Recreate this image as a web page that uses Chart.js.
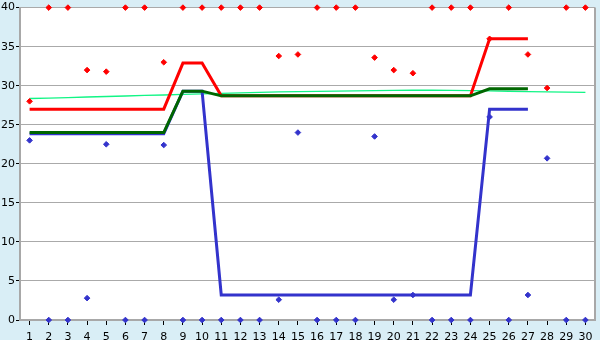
<!DOCTYPE html>
<html>
<head>
<meta charset="utf-8">
<script src="https://cdn.jsdelivr.net/npm/chart.js@4.4.1/dist/chart.umd.min.js"></script>
<style>
  html, body { margin: 0; padding: 0; background: #d9eef6; }
  #wrap { width: 600px; height: 340px; }
</style>
</head>
<body>
<div id="wrap"><canvas id="myChart" width="600" height="340"></canvas></div>
<script>
var labels = ["1","2","3","4","5","6","7","8","9","10","11","12","13","14","15",
              "16","17","18","19","20","21","22","23","24","25","26","27","28","29","30"];
var yTicks = [0, 5, 10, 15, 20, 25, 30, 35, 40];

var redLine   = [27,27,27,27,27,27,27,27,32.9,32.9,28.7,28.7,28.7,28.7,28.7,28.7,28.7,28.7,28.7,28.7,28.7,28.7,28.7,28.7,36,36,36,null,null,null];
var blueLine  = [23.85,23.85,23.85,23.85,23.85,23.85,23.85,23.85,29.3,29.3,3.2,3.2,3.2,3.2,3.2,3.2,3.2,3.2,3.2,3.2,3.2,3.2,3.2,3.2,27,27,27,null,null,null];
var greenLine = [24,24,24,24,24,24,24,24,29.3,29.3,28.7,28.7,28.7,28.7,28.7,28.7,28.7,28.7,28.7,28.7,28.7,28.7,28.7,28.7,29.6,29.6,29.6,null,null,null];
var trendLine = [28.36,28.42,28.48,28.55,28.62,28.68,28.75,28.81,28.88,28.95,29.02,29.08,29.14,29.2,29.25,
                 29.28,29.31,29.34,29.37,29.4,29.42,29.42,29.4,29.37,29.33,29.29,29.25,29.21,29.17,29.14];
var redPoints  = [28,40,40,32,31.8,40,40,33,40,40,40,40,40,33.8,34,40,40,40,33.6,32,31.6,40,40,40,36,40,34,29.7,40,40];
var bluePoints = [23,0,0,2.8,22.5,0,0,22.4,0,0,0,0,0,2.6,24,0,0,0,23.5,2.6,3.2,0,0,0,26,0,3.2,20.7,0,0];

// white plot area + gray frame
var plotFrame = {
  id: 'plotFrame',
  beforeDraw: function(chart) {
    var a = chart.chartArea, c = chart.ctx;
    c.save();
    c.fillStyle = '#ffffff';
    c.fillRect(a.left, a.top, a.right - a.left, a.bottom - a.top);
    c.restore();
  },
  afterDatasetsDraw: function(chart) {
    var a = chart.chartArea, c = chart.ctx;
    c.save();
    c.strokeStyle = '#a8a8a8';
    c.lineWidth = 2;
    c.beginPath();
    c.moveTo(a.right, a.top);
    c.lineTo(a.right, a.bottom);
    c.stroke();
    c.restore();
  }
};

function lineSet(data, color, width, order) {
  return {
    data: data, borderColor: color, backgroundColor: color, borderWidth: width,
    pointRadius: 0, tension: 0, fill: false, order: order, spanGaps: false
  };
}
function pointSet(data, color) {
  return {
    data: data, showLine: false, borderColor: color, backgroundColor: color,
    pointStyle: 'rectRot', pointRadius: 2.8, borderWidth: 1, order: 0, clip: false
  };
}

Chart.defaults.font.family = "'DejaVu Sans', Verdana, sans-serif";
Chart.defaults.font.size = 11;
Chart.defaults.color = '#000000';

var ctx = document.getElementById('myChart');
new Chart(ctx, {
  type: 'line',
  data: {
    labels: labels,
    datasets: [
      lineSet(trendLine, '#11f585', 1.3, 5),
      lineSet(redLine, '#ff0000', 3, 4),
      lineSet(blueLine, '#3333cc', 3, 3),
      lineSet(greenLine, '#006600', 3, 2),
      pointSet(redPoints, '#ff0000'),
      pointSet(bluePoints, '#3333cc')
    ]
  },
  plugins: [plotFrame],
  options: {
    responsive: false,
    animation: false,
    layout: { padding: { top: 5, right: 5, left: 0, bottom: 0 } },
    plugins: { legend: { display: false }, tooltip: { enabled: false } },
    scales: {
      x: {
        offset: true,
        afterFit: function(s) { s.height = 20; },
        grid: { drawOnChartArea: false, offset: false, tickLength: 5, tickColor: '#000000', tickWidth: 1 },
        border: { color: '#a8a8a8', width: 2 },
        ticks: { padding: 6, maxRotation: 0, autoSkip: false }
      },
      y: {
        min: 0, max: 40,
        afterFit: function(s) { s.width = 20; },
        afterBuildTicks: function(s) { s.ticks = yTicks.map(function(v) { return { value: v }; }); },
        grid: { color: '#aaaaaa', lineWidth: 1, tickLength: 4, tickColor: '#000000' },
        border: { color: '#a8a8a8', width: 2 },
        ticks: { padding: 1 }
      }
    }
  }
});
</script>
</body>
</html>
